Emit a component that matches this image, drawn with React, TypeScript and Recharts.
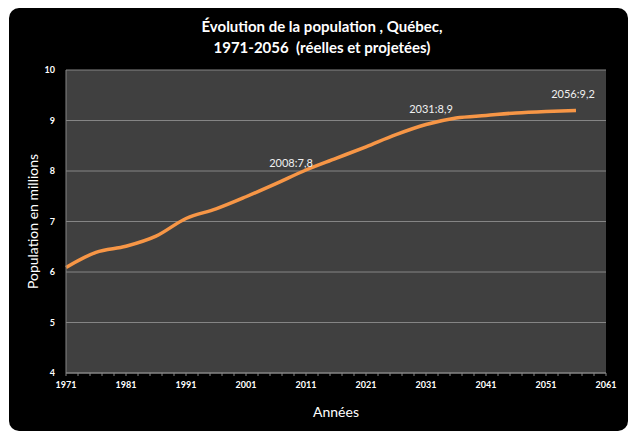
import React from "react";
import {
  LineChart,
  Line,
  XAxis,
  YAxis,
  CartesianGrid,
  Label,
  ReferenceDot,
} from "recharts";

const years = [1971, 1976, 1981, 1986, 1991, 1996, 2001, 2006, 2011, 2016, 2021, 2026, 2031, 2036, 2041, 2046, 2051, 2056];
const population = [6.09, 6.39, 6.51, 6.71, 7.06, 7.25, 7.49, 7.75, 8.02, 8.25, 8.48, 8.72, 8.92, 9.05, 9.1, 9.15, 9.18, 9.2];
const annotationYears = [2008, 2031, 2056];
const annotationValues = [7.84, 8.92, 9.2];
const annotationTexts = ["2008:7,8", "2031:8,9", "2056:9,2"];
const annotationShift = [3, 5, -3];
const xTickMarks = [
  1971, 1973, 1975, 1977, 1979, 1981, 1983, 1985, 1987, 1989, 1991, 1993, 1995, 1997, 1999, 2001,
  2003, 2005, 2007, 2009, 2011, 2013, 2015, 2017, 2019, 2021, 2023, 2025, 2027, 2029, 2031, 2033,
  2035, 2037, 2039, 2041, 2043, 2045, 2047, 2049, 2051, 2053, 2055, 2057, 2059, 2061,
];
const xTickLabels = [1971, 1981, 1991, 2001, 2011, 2021, 2031, 2041, 2051, 2061];
const yTicks = [4, 5, 6, 7, 8, 9, 10];

const data = years.map((y, i) => ({ year: y, pop: population[i] }));

const FONT = "Lato, 'Open Sans', sans-serif";

export default function App() {
  return (
    <div
      style={{
        position: "relative",
        width: 619,
        height: 423,
        marginLeft: 1,
        background: "#000",
        borderRadius: 10,
        fontFamily: FONT,
      }}
    >
      <div
        style={{
          position: "absolute",
          left: 0,
          top: 8,
          width: 626,
          textAlign: "center",
          color: "#fff",
          fontWeight: "bold",
          fontSize: 15,
          lineHeight: "21px",
          fontFamily: FONT,
        }}
      >
        <div>Évolution de la population , Québec,</div>
        <div>1971-2056&nbsp; (réelles et projetées)</div>
      </div>
      <LineChart
        width={619}
        height={423}
        data={data}
        margin={{ top: 62, right: 22, bottom: 8, left: 10 }}
        style={{ position: "absolute", left: 0, top: 0 }}
      >
        <CartesianGrid
          vertical={false}
          fill="#404040"
          stroke="#858585"
          strokeWidth={1}
        />
        <XAxis
          dataKey="year"
          type="number"
          domain={[1971, 2061]}
          ticks={xTickMarks}
          interval={0}
          tickFormatter={(v: number) => (xTickLabels.includes(v) ? String(v) : "")}
          stroke="#858585"
          tickSize={3}
          tickMargin={6}
          height={50}
          tick={{ fill: "#fff", fontSize: 9, fontWeight: "bold", fontFamily: FONT }}
        >
          <Label
            value="Années"
            position="insideBottom"
            offset={6}
            fill="#fff"
            fontSize={14}
            fontFamily={FONT}
          />
        </XAxis>
        <YAxis
          type="number"
          domain={[4, 10]}
          ticks={yTicks}
          interval={0}
          width={47}
          tickSize={0}
          tickMargin={11}
          stroke="#858585"
          tick={{ fill: "#fff", fontSize: 9, fontWeight: "bold", fontFamily: FONT }}
        >
          <Label
            value="Population en millions"
            angle={-90}
            position="insideLeft"
            offset={14}
            fill="#fff"
            fontSize={14}
            fontFamily={FONT}
            style={{ textAnchor: "middle" }}
          />
        </YAxis>
        <Line
          type="monotone"
          dataKey="pop"
          stroke="#F79646"
          strokeWidth={3.5}
          dot={false}
          activeDot={false}
          isAnimationActive={false}
        />
        {annotationYears.map((y, i) => (
          <ReferenceDot
            key={y}
            x={y}
            y={annotationValues[i]}
            r={0}
            fill="none"
            stroke="none"
            label={{
              value: annotationTexts[i],
              position: "top",
              offset: 12,
              dx: annotationShift[i],
              fill: "#f0f0f0",
              fontSize: 11,
              fontFamily: FONT,
            }}
          />
        ))}
      </LineChart>
    </div>
  );
}
